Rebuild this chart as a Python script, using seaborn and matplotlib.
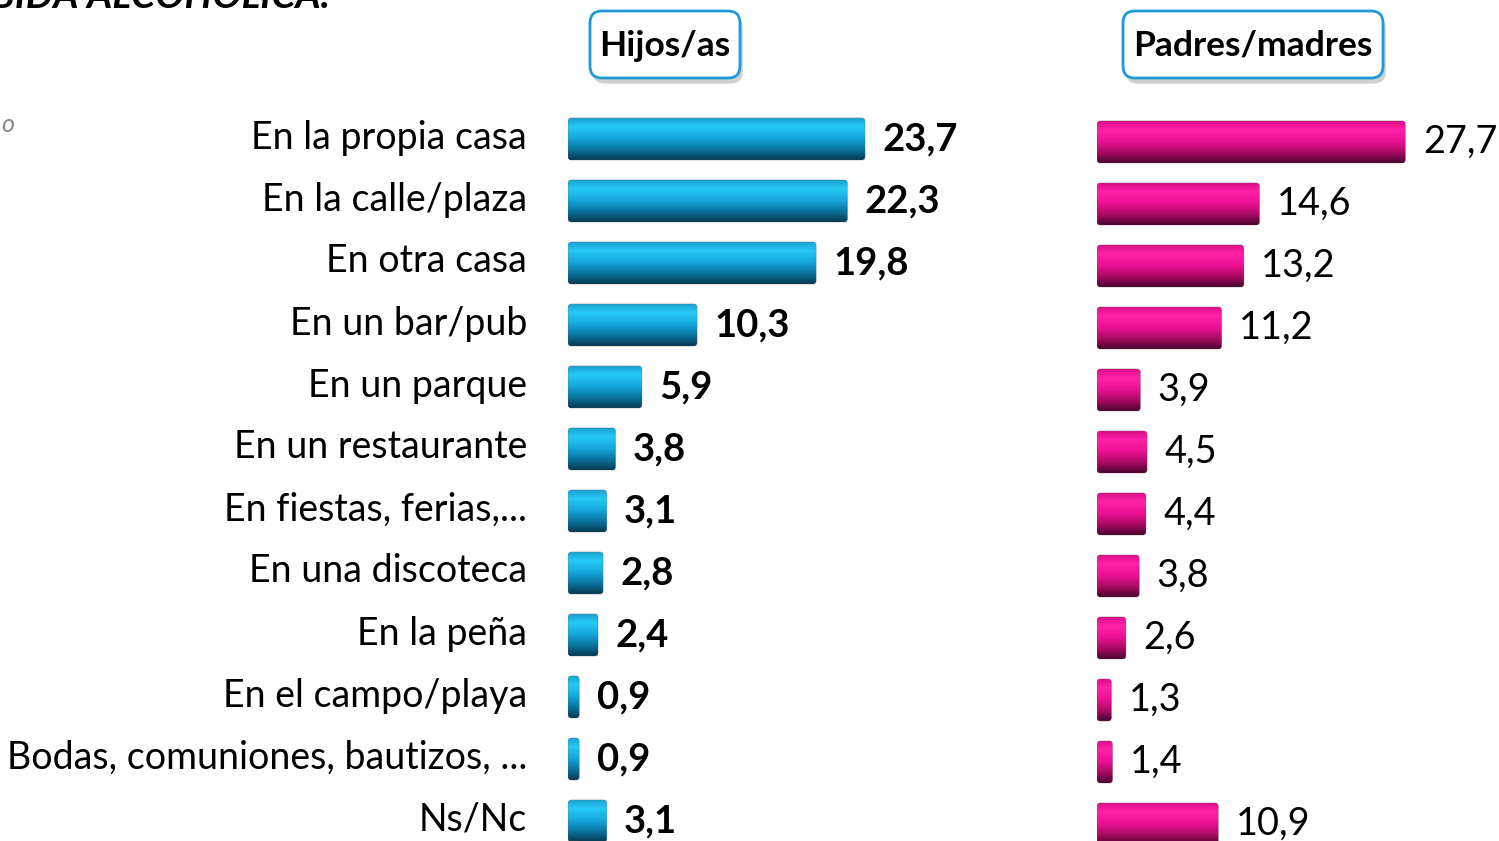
import numpy as np
import pandas as pd
import matplotlib
matplotlib.use("Agg")
import matplotlib.pyplot as plt
import matplotlib.transforms as mtransforms
import seaborn as sns
from matplotlib import patheffects as pe
from matplotlib.patches import FancyBboxPatch
from matplotlib.colors import LinearSegmentedColormap

categories = ["En la propia casa", "En la calle/plaza", "En otra casa", "En un bar/pub",
              "En un parque", "En un restaurante", "En fiestas, ferias,...", "En una discoteca",
              "En la peña", "En el campo/playa", "Bodas, comuniones, bautizos, ...", "Ns/Nc"]
hijos = [23.7, 22.3, 19.8, 10.3, 5.9, 3.8, 3.1, 2.8, 2.4, 0.9, 0.9, 3.1]
padres = [27.7, 14.6, 13.2, 11.2, 3.9, 4.5, 4.4, 3.8, 2.6, 1.3, 1.4, 10.9]
panel_titles = ["Hijos/as", "Padres/madres"]

sns.set_theme(style="white")
FONT = ["Lato", "DejaVu Sans"]
plt.rcParams["font.family"] = FONT

W, H = 1499, 841
fig = plt.figure(figsize=(W / 100, H / 100), dpi=100)
fig.patch.set_facecolor("white")


def px_axes(x0, top, width, bottom):
    return fig.add_axes([x0 / W, 1 - bottom / H, width / W, (bottom - top) / H])


ax1 = px_axes(568, 108, 376, 852)
ax2 = px_axes(1097, 111, 334, 855)

df = pd.DataFrame({"lugar": categories, "hijos": hijos, "padres": padres})

blue_cmap = LinearSegmentedColormap.from_list(
    "b", [(0, "#1a9fd0"), (0.22, "#27c8f5"), (0.5, "#15a6dc"), (0.78, "#0b6e98"), (1, "#073a52")])
pink_cmap = LinearSegmentedColormap.from_list(
    "p", [(0, "#d80f86"), (0.22, "#ff22a8"), (0.5, "#ea1092"), (0.78, "#a3095f"), (1, "#4a0430")])

specs = [(ax1, "hijos", blue_cmap, "#15a6dc", "bold", 27.5),
         (ax2, "padres", pink_cmap, "#ea1092", "normal", 27.3)]
grad = np.linspace(0, 1, 64).reshape(-1, 1)

for ax, col, cmap, base, weight, fs in specs:
    sns.barplot(data=df, x=col, y="lugar", ax=ax, color=base, width=0.68,
                orient="h", saturation=1, edgecolor="none")
    ax.set_xlim(0, 30)
    ax.set_ylim(len(categories) - 0.5, -0.5)
    # pixel sizes of one data unit
    bb = ax.get_position()
    px_x = bb.width * W / 30.0
    px_y = bb.height * H / len(categories)
    r_px = 3.5
    for p in list(ax.patches):
        x0, y0, w, h = p.get_x(), p.get_y(), p.get_width(), p.get_height()
        rounded = FancyBboxPatch((x0, y0), w, h,
                                 boxstyle=f"round,pad=0,rounding_size={r_px / px_x}",
                                 mutation_aspect=px_x / px_y,
                                 fc="none", ec=(0.35, 0.35, 0.35, 0.35), lw=0.6,
                                 transform=ax.transData, zorder=3)
        ax.add_patch(rounded)
        im = ax.imshow(grad, cmap=cmap, extent=(x0, x0 + w, y0 + h, y0), origin="upper",
                       aspect="auto", zorder=2.5, interpolation="bilinear")
        im.set_clip_path(rounded)
        p.set_alpha(0)
    ax.set_xlim(0, 30)
    ax.set_ylim(len(categories) - 0.5, -0.5)
    for i, v in enumerate(df[col]):
        ax.annotate(f"{v:.1f}".replace(".", ","), xy=(v, i), xytext=(12.5, 0),
                    textcoords="offset points", va="center", ha="left",
                    fontsize=fs, fontweight=weight, color="black", annotation_clip=False)
    ax.set_xlabel("")
    ax.set_ylabel("")
    ax.set_xticks([])
    sns.despine(ax=ax, left=True, bottom=True)

ax1.tick_params(axis="y", length=0, pad=29.5, labelsize=27)
shift = mtransforms.ScaledTranslation(0, 5 / 100, fig.dpi_scale_trans)
for t in ax1.get_yticklabels():
    t.set_color("black")
    t.set_transform(t.get_transform() + shift)
ax2.set_yticks([])

# panel headers
boxes = [(590, 11, 150, 67), (1123, 11, 260, 67)]
for (bx, by, bw, bh), title in zip(boxes, panel_titles):
    box = FancyBboxPatch((bx / W, 1 - (by + bh) / H), bw / W, bh / H,
                         boxstyle=f"round,pad=0,rounding_size={12 / W}",
                         mutation_aspect=W / H,
                         transform=fig.transFigure, fc="white", ec="#1e9ad6", lw=2)
    box.set_path_effects([pe.SimplePatchShadow(offset=(2, -4), shadow_rgbFace="#777777", alpha=0.35),
                          pe.Normal()])
    fig.patches.append(box)
    fig.text((bx + bw / 2) / W, 1 - (by + bh / 2 + 1) / H, title, ha="center", va="center",
             fontsize=25.5, fontweight="bold", color="black")

# clipped slide remnants
fig.text(330 / W, 1 - 8 / H, "ACTITUD ANTE LA BEBIDA ALCOHÓLICA.", ha="right", va="baseline",
         fontsize=28, fontweight="bold", fontstyle="italic", color="black")
fig.text(1 / W, 1 - 125 / H, "o", ha="left", va="center", fontsize=18,
         fontstyle="italic", color="#888888")

fig.savefig("out.png", dpi=100, facecolor="white")
